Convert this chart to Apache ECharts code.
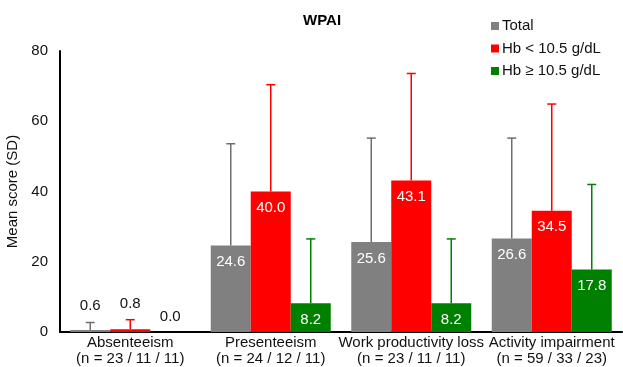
<!DOCTYPE html>
<html>
<head>
<meta charset="utf-8">
<script src="https://cdn.jsdelivr.net/npm/echarts@6/dist/echarts.min.js"></script>
<style>html,body{margin:0;padding:0;background:#fff}#c{width:623px;height:367px}</style>
</head>
<body>
<div id="c"></div>
<script>
const categories = ['Absenteeism\n(n = 23 / 11 / 11)', 'Presenteeism\n(n = 24 / 12 / 11)', 'Work productivity loss\n(n = 23 / 11 / 11)', 'Activity impairment\n(n = 59 / 33 / 23)'];
const seriesNames = ['Total', 'Hb < 10.5 g/dL', 'Hb \u2265 10.5 g/dL'];
const totalMean = [0.6, 24.6, 25.6, 26.6];
const lowMean = [0.8, 40.0, 43.1, 34.5];
const highMean = [0.0, 8.2, 8.2, 17.8];
const totalSD = [2.1, 29.0, 29.6, 28.6];
const lowSD = [2.7, 30.4, 30.5, 30.4];
const highSD = [0.0, 18.3, 18.3, 24.2];
const yTicks = [0, 20, 40, 60, 80];

const barColors = ['#808080', '#ff0000', '#008000'];
const errColors = ['#6e6e6e', '#ff0000', '#008000'];
const means = [totalMean, lowMean, highMean];
const sds = [totalSD, lowSD, highSD];
const BW = 40;
const outsideDist = [17, 18, 8];

const FONT = 'Liberation Sans, Arial, sans-serif';

function barData(si) {
  return means[si].map((v, i) => {
    if (i === 0) {
      return { value: v, label: { position: 'top', distance: outsideDist[si], color: '#111' } };
    }
    return v;
  });
}

const series = [];
seriesNames.forEach((name, si) => {
  series.push({
    name: name,
    type: 'bar',
    barWidth: BW,
    barGap: '0%',
    itemStyle: { color: barColors[si] },
    label: {
      show: true, position: 'insideTop', distance: 9, color: '#fff',
      fontFamily: FONT, fontSize: 15,
      formatter: p => Number(p.value).toFixed(1)
    },
    data: barData(si),
    z: 2
  });
});
seriesNames.forEach((name, si) => {
  const offset = (si - 1) * BW;
  series.push({
    name: name + ' SD',
    type: 'custom',
    z: 5,
    encode: { x: 0, y: 1 },
    data: means[si].map((m, i) => [i, m, sds[si][i]]),
    renderItem: function (params, api) {
      const sd = api.value(2);
      if (!sd) return { type: 'group', children: [] };
      const m = api.value(1);
      const x = api.coord([api.value(0), 0])[0] + offset;
      const y1 = api.coord([api.value(0), m])[1];
      const y2 = api.coord([api.value(0), m + sd])[1];
      const st = { stroke: errColors[si], lineWidth: 1.5 };
      return {
        type: 'group',
        children: [
          { type: 'line', shape: { x1: x, y1: y1, x2: x, y2: y2 }, style: st },
          { type: 'line', shape: { x1: x - 4.5, y1: y2, x2: x + 4.5, y2: y2 }, style: st }
        ]
      };
    }
  });
});

const chart = echarts.init(document.getElementById('c'));
chart.setOption({
  animation: false,
  backgroundColor: '#fff',
  title: {
    text: 'WPAI', left: 298, top: 8,
    textStyle: { fontFamily: FONT, fontSize: 15, fontWeight: 'bold', color: '#000' }
  },
  legend: {
    data: seriesNames, orient: 'vertical', left: 486, top: 13,
    icon: 'rect', itemWidth: 8, itemHeight: 8, itemGap: 6.5,
    textStyle: { fontFamily: FONT, fontSize: 15, color: '#111', lineHeight: 16, padding: [0, 0, 0, -2] }
  },
  grid: { left: 60, right: 1, top: 51, bottom: 35, containLabel: false, outerBoundsMode: 'none' },
  xAxis: {
    type: 'category', data: categories,
    axisLine: { lineStyle: { color: '#000', width: 2 } },
    axisTick: { show: false },
    axisLabel: { fontFamily: FONT, fontSize: 15, color: '#111', lineHeight: 16, margin: 3, interval: 0 }
  },
  yAxis: {
    type: 'value', min: yTicks[0], max: yTicks[yTicks.length - 1], interval: 20,
    name: 'Mean score (SD)', nameLocation: 'middle', nameGap: 37, nameRotate: 90,
    nameTextStyle: { fontFamily: FONT, fontSize: 15, color: '#111' },
    axisLine: { show: true, lineStyle: { color: '#000', width: 2 } },
    axisTick: { show: false },
    splitLine: { show: false },
    axisLabel: { fontFamily: FONT, fontSize: 15, color: '#111', margin: 12 }
  },
  series: series
});
</script>
</body>
</html>
